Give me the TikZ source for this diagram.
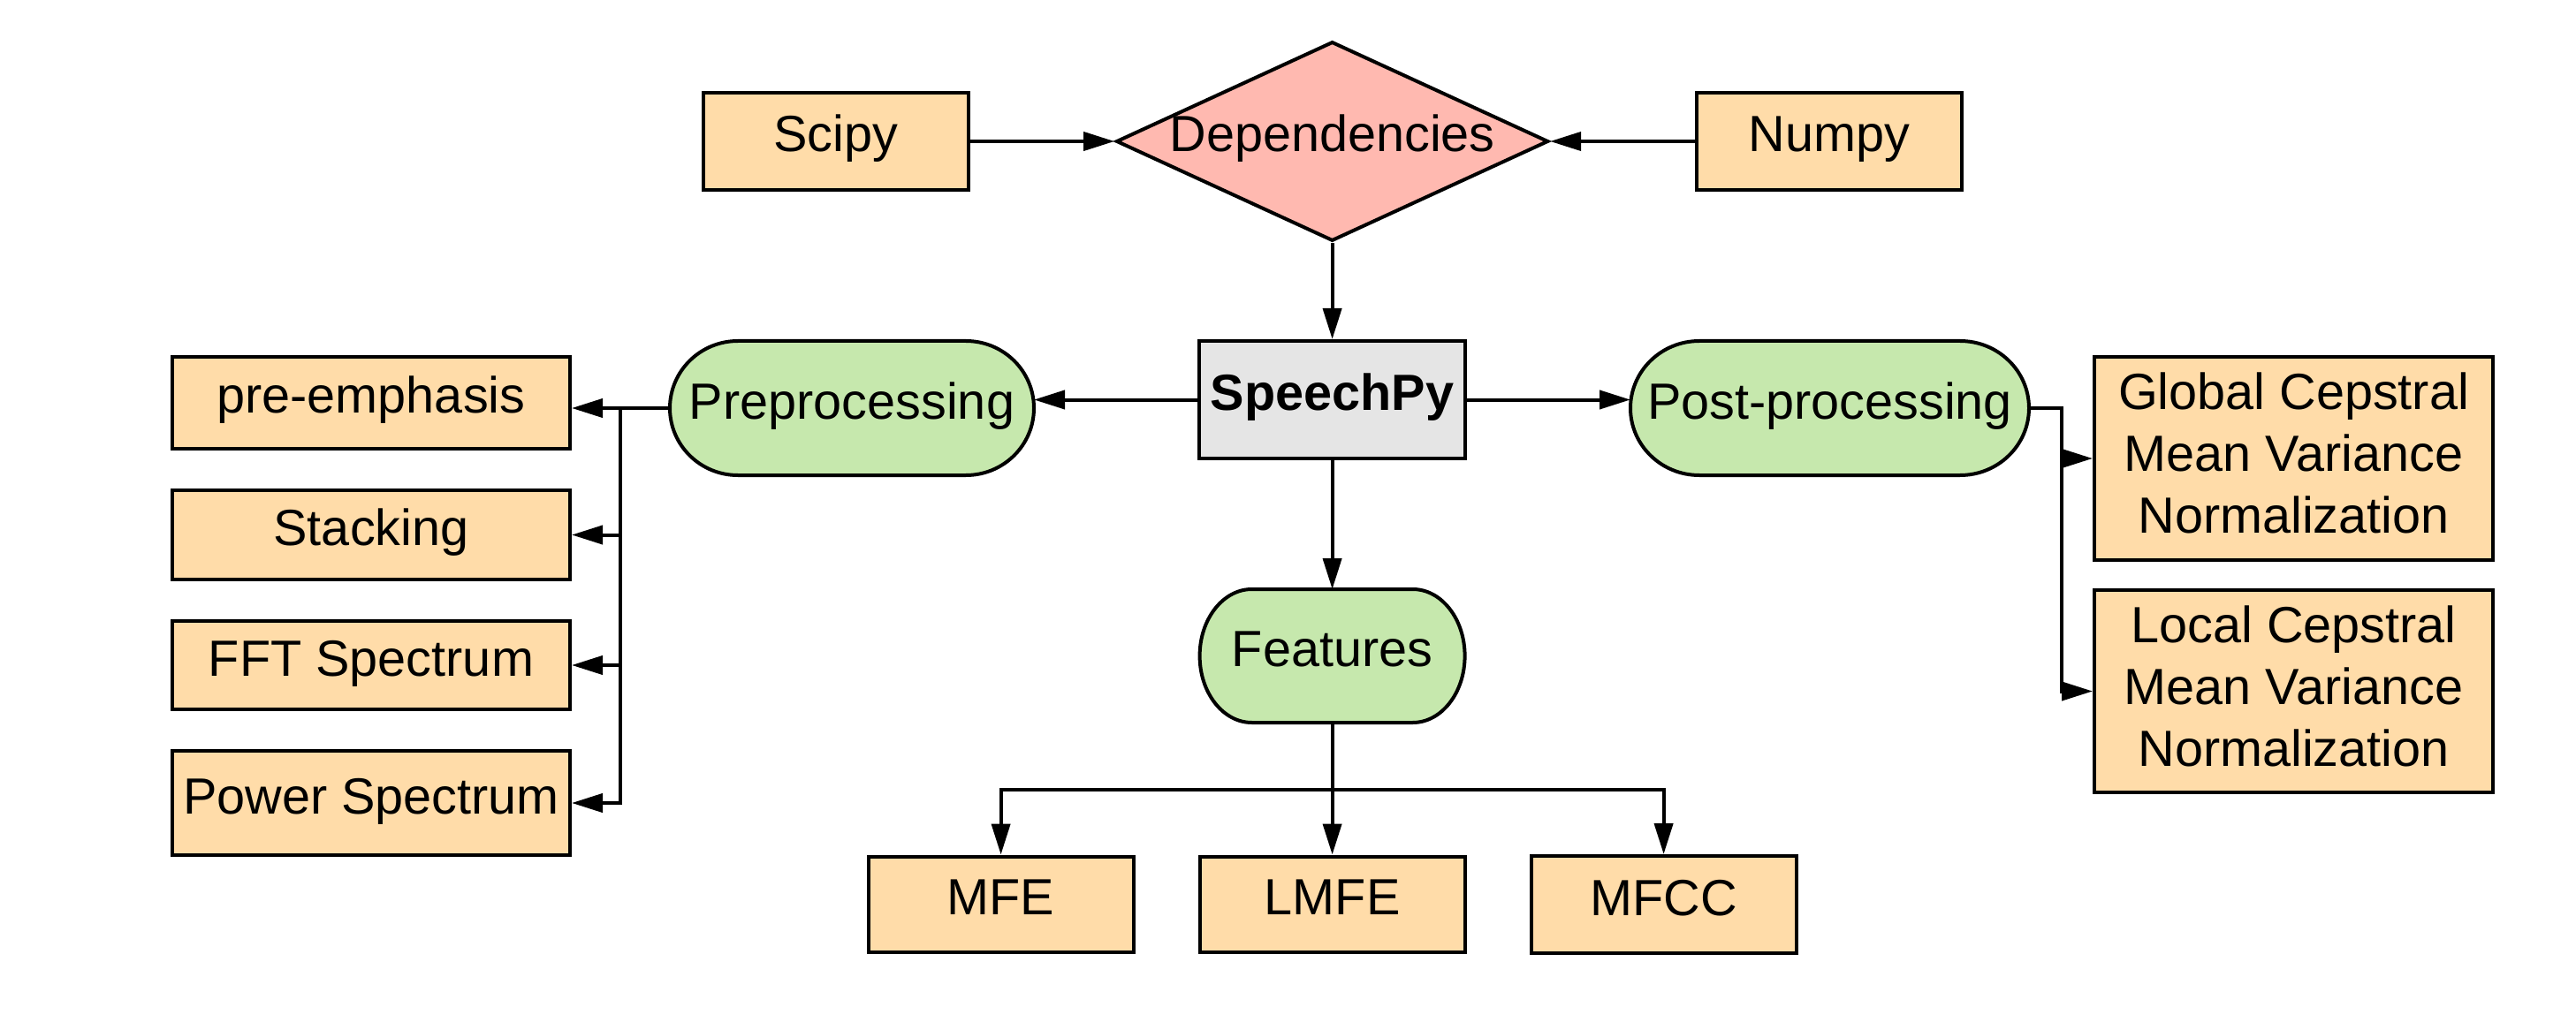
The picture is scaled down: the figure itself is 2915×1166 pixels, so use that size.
\documentclass[tikz,border=0pt]{standalone}
\usepackage{fontspec}
\setmainfont{Liberation Sans}
\usetikzlibrary{arrows.meta,shapes.geometric,backgrounds}
\definecolor{boxorange}{HTML}{FFDCA9}
\definecolor{diapink}{HTML}{FFB9B0}
\definecolor{procgreen}{HTML}{C6E8AD}
\definecolor{coregray}{HTML}{E5E5E5}
\newcommand\stadiumpath[4]{% node, rx, ry, fill
  \begin{pgfonlayer}{background}
  \draw[line width=1pt, fill=#4] ([xshift=#2]#1.north west) -- ([xshift=-#2]#1.north east)
    arc[start angle=90, end angle=-90, x radius=#2, y radius=#3]
    -- ([xshift=#2]#1.south west)
    arc[start angle=270, end angle=90, x radius=#2, y radius=#3] -- cycle;
  \end{pgfonlayer}}
\begin{document}
\begin{tikzpicture}[x=0.25pt, y=-0.25pt,
  every node/.style={font=\fontsize{14.4pt}{17.5pt}\selectfont, inner sep=0pt, align=center},
  tl/.style={text height=10.3pt, text depth=4.3pt},
  sz/.style 2 args={minimum width=#1, minimum height=#2},
  obox/.style={draw, line width=1pt, fill=boxorange, rectangle},
  gbox/.style={draw, line width=1pt, fill=coregray, rectangle},
  dia/.style={draw, line width=1pt, fill=diapink, diamond},
  stad/.style={draw=none, rectangle, outer sep=0pt},
  arr/.style={line width=1pt, -{Triangle[length=8.75pt, width=5.25pt]}},
]
\useasboundingbox (0,0) rectangle (2915,1166);

% top row
\node[obox, tl, sz={75pt}{27.5pt}] (scipy) at (945.5,160) {Scipy};
\node[obox, tl, sz={75pt}{27.5pt}] (numpy) at (2070,160) {Numpy};
\node[dia, tl, sz={122.25pt}{56.4pt}] (dep) at (1507.6,160) {\makebox[0pt]{Dependencies}};

% core
\node[gbox, tl, sz={75.25pt}{33.25pt}] (sp) at (1507.6,452.5) {\textbf{SpeechPy}};

% stadium nodes
\node[stad, tl, sz={103pt}{38pt}] (pre) at (964,462) {Preprocessing};
\node[stad, tl, sz={112.75pt}{38pt}] (post) at (2070.5,462) {Post-processing};
\node[stad, tl, sz={75pt}{37.75pt}] (feat) at (1507.6,742.5) {Features};
\stadiumpath{pre}{19.25pt}{19pt}{procgreen}
\stadiumpath{post}{19.5pt}{19pt}{procgreen}
\stadiumpath{feat}{14.75pt}{18.875pt}{procgreen}

% left column
\node[obox, tl, sz={112.5pt}{25.75pt}] (pe) at (420,456) {pre-emphasis};
\node[obox, tl, sz={112.5pt}{25.25pt}] (st) at (420,605.5) {Stacking};
\node[obox, tl, sz={112.5pt}{25pt}] (fft) at (420,753) {FFT Spectrum};
\node[obox, tl, sz={112.5pt}{29.5pt}] (pw) at (420,909) {Power Spectrum};

% right column
\node[obox, sz={112.75pt}{57.5pt}] (gc) at (2595.5,519) {Global Cepstral\\Mean Variance\\Normalization\rule[-3pt]{0pt}{0pt}};
\node[obox, sz={112.75pt}{57.25pt}] (lc) at (2595.5,782.5) {Local Cepstral\\Mean Variance\\Normalization\rule[-3pt]{0pt}{0pt}};

% bottom row
\node[obox, tl, sz={75pt}{27pt}] (mfe) at (1132.6,1023.5) {MFE};
\node[obox, tl, sz={75pt}{27pt}] (lmfe) at (1507.6,1023.5) {LMFE};
\node[obox, tl, sz={75pt}{27.5pt}] (mfcc) at (1882.6,1024) {MFCC};

% bus coordinates
\coordinate (pbus) at (702,462);
\coordinate (qbus) at (2332.6,462);
\coordinate (fbus) at (1507.6,894);

% connectors
\draw[arr] (scipy.east) -- (dep.west);
\draw[arr] (numpy.west) -- (dep.east);
\draw[arr] (dep.south) -- (sp.north);
\draw[arr] (sp.west) -- (pre.east |- sp.west);
\draw[arr] (sp.east) -- (post.west |- sp.east);
\draw[arr] (sp.south) -- (feat.north);

\draw[arr] (pre.west) -- (pre.west -| pe.east);
\draw[arr] (pre.west) -- (pbus) |- (st.east);
\draw[arr] (pre.west) -- (pbus) |- (fft.east);
\draw[arr] (pre.west) -- (pbus) |- (pw.east);

\draw[arr] (post.east) -- (qbus) |- (gc.west);
\draw[arr] (post.east) -- (qbus) |- (lc.west);

\draw[arr] (feat.south) -- (fbus) -| (mfe.north);
\draw[arr] (feat.south) -- (lmfe.north);
\draw[arr] (fbus) -| (mfcc.north);
\end{tikzpicture}
\end{document}
